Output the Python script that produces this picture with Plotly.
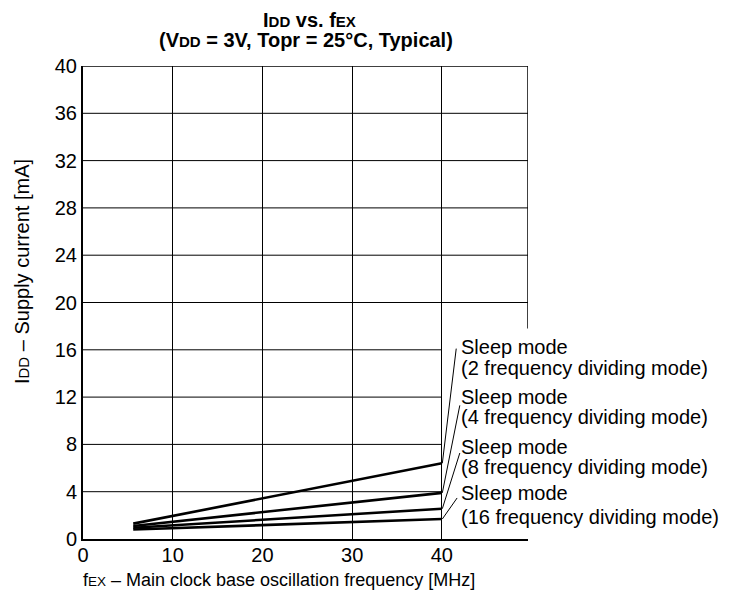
import plotly.graph_objects as go

# ---- data ----
freq_start = [5.6, 5.6, 5.6, 5.6]
freq_end = [40, 40, 40, 40]
idd_start = [1.3, 1.1, 0.95, 0.8]
idd_end = [6.4, 3.9, 2.56, 1.69]
series_names = ["Sleep mode (2 frequency dividing mode)",
                "Sleep mode (4 frequency dividing mode)",
                "Sleep mode (8 frequency dividing mode)",
                "Sleep mode (16 frequency dividing mode)"]
label_line1 = ["Sleep mode"] * 4
label_line2 = ["(2 frequency dividing mode)", "(4 frequency dividing mode)",
               "(8 frequency dividing mode)", "(16 frequency dividing mode)"]
label_y1 = [16.25, 12.05, 7.8, 3.9]
label_y2 = [14.5, 10.3, 6.1, 1.9]
leader_x = [41.6, 42.0, 42.0, 41.7]
leader_y = [16.1, 11.3, 7.27, 3.47]
x_ticks = [0, 10, 20, 30, 40]
y_ticks = [0, 4, 8, 12, 16, 20, 24, 28, 32, 36, 40]
x_max = 49.6
y_right_border_end = 17.8

FONT = "Arial, Liberation Sans, sans-serif"
fig = go.Figure()

for xs, xe, ys, ye, nm in zip(freq_start, freq_end, idd_start, idd_end, series_names):
    fig.add_trace(go.Scatter(x=[xs, xe], y=[ys, ye], mode="lines", name=nm,
                             line=dict(color="black", width=2.6), showlegend=False,
                             hoverinfo="skip"))

shapes = []
# horizontal gridlines
for t in y_ticks[1:-1]:
    xe = x_max if t >= 20 else 40
    shapes.append(dict(type="line", xref="x", yref="y", x0=0, x1=xe, y0=t, y1=t,
                       line=dict(color="black", width=1), layer="below"))
# top border and partial right border
shapes.append(dict(type="line", xref="x", yref="y", x0=0, x1=x_max, y0=40, y1=40,
                   line=dict(color="black", width=1.5)))
shapes.append(dict(type="line", xref="x", yref="y", x0=x_max, x1=x_max, y0=40,
                   y1=y_right_border_end, line=dict(color="black", width=1.5)))
# leader lines
for lx, ly, ye in zip(leader_x, leader_y, idd_end):
    shapes.append(dict(type="line", xref="x", yref="y", x0=40.05, x1=lx, y0=ye, y1=ly,
                       line=dict(color="black", width=1)))

annotations = []
for l1, l2, y1, y2 in zip(label_line1, label_line2, label_y1, label_y2):
    for txt, yy in ((l1, y1), (l2, y2)):
        annotations.append(dict(x=41.9, y=yy, xref="x", yref="y", text=txt, showarrow=False,
                                xanchor="left", yanchor="middle",
                                font=dict(family=FONT, size=20, color="black")))

annotations.append(dict(x=-0.137, y=0.5645, xref="paper", yref="paper",
                        text="I<span style='font-size:15px'>DD</span> – Supply current [mA]",
                        textangle=-90, showarrow=False, xanchor="center", yanchor="middle",
                        font=dict(family=FONT, size=20, color="black")))
annotations.append(dict(x=0.44, y=-0.087, xref="paper", yref="paper",
                        text="f<span style='font-size:13.5px'>EX</span> – Main clock base oscillation frequency [MHz]",
                        showarrow=False, xanchor="center", yanchor="middle",
                        font=dict(family=FONT, size=18, color="black")))
annotations.append(dict(x=0.508, y=1.098, xref="paper", yref="paper",
                        text="<b>I<span style='font-size:15px'>DD</span> vs. f<span style='font-size:15px'>EX</span></b>",
                        showarrow=False, xanchor="center", yanchor="middle",
                        font=dict(family=FONT, size=20, color="black")))
annotations.append(dict(x=0.501, y=1.054, xref="paper", yref="paper",
                        text="<b>(V<span style='font-size:15px'>DD</span> = 3V, Topr = 25°C, Typical)</b>",
                        showarrow=False, xanchor="center", yanchor="middle",
                        font=dict(family=FONT, size=20, color="black")))

fig.update_layout(
    width=730, height=593,
    margin=dict(l=75, r=210, t=58, b=62),
    paper_bgcolor="white", plot_bgcolor="white",
    shapes=shapes, annotations=annotations,
    xaxis=dict(range=[0, x_max], tickvals=x_ticks, showgrid=True, gridcolor="black",
               gridwidth=1, showline=True, linecolor="black", linewidth=2,
               ticks="", zeroline=False, ticklabelstandoff=-3,
               tickfont=dict(family=FONT, size=20, color="black")),
    yaxis=dict(range=[0, 40], tickvals=y_ticks, showgrid=False, showline=True,
               linecolor="black", linewidth=2, ticks="", zeroline=False,
               tickfont=dict(family=FONT, size=20, color="black")),
)

fig.write_html("out.html")
